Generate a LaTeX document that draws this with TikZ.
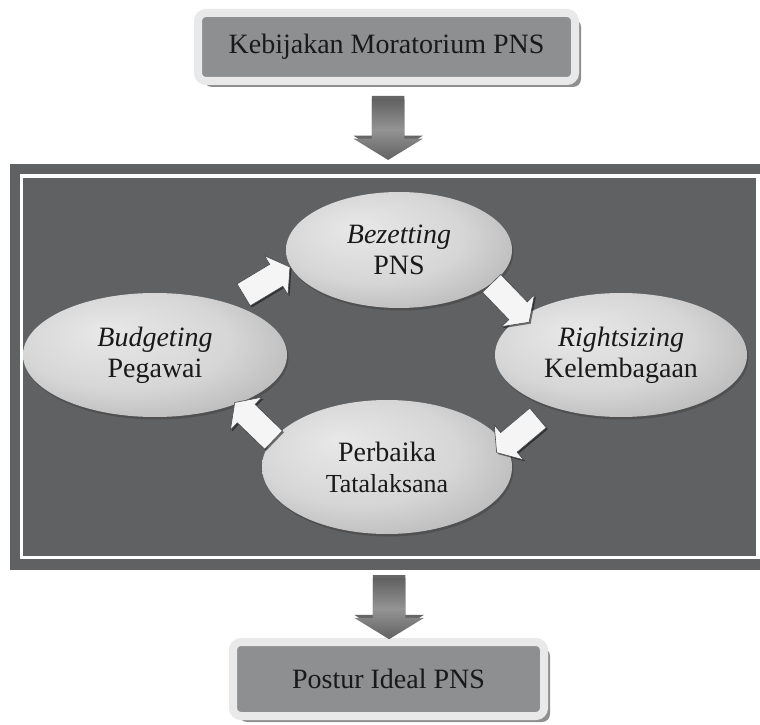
\documentclass[tikz,border=0pt]{standalone}
\usepackage{fontspec}
\setmainfont{Liberation Serif}
\usetikzlibrary{arrows.meta,positioning,calc,shapes.geometric,shapes.arrows,shadows}

\definecolor{panelgray}{HTML}{606163}
\definecolor{boxgray}{HTML}{8E8F91}
\definecolor{rimgray}{HTML}{E9E9EA}
\pgfdeclareradialshading{ovalshade}{\pgfpoint{-10bp}{10bp}}{%
  color(0bp)=(black!9); color(20bp)=(black!16); color(38bp)=(black!32);
  color(50bp)=(black!55)}

\begin{document}
\begin{tikzpicture}[x=1pt, y=1pt,
    font=\fontsize{28}{31}\selectfont,
    titlebox/.style={draw=rimgray, line width=8pt, fill=boxgray, rounded corners=8pt,
      inner sep=0pt, text=black!90,
      drop shadow={shadow xshift=6pt, shadow yshift=-6pt, fill=black!55, opacity=.8}},
    panel/.style={fill=panelgray, draw=white, line width=3.5pt, outer sep=12pt,
      inner sep=0pt, preaction={draw=panelgray, line width=24pt}},
    oval/.style={ellipse, inner sep=0pt, align=center, shading=ovalshade, text=black!90,
      drop shadow={shadow xshift=1.5pt, shadow yshift=-2.5pt, fill=black!70, opacity=.8}},
    flow/.style={single arrow, draw=black!70, line width=.6pt, fill=white!96!black,
      minimum height=54pt, inner xsep=0pt, inner ysep=12.5pt,
      single arrow head extend=10pt, single arrow tip angle=110,
      drop shadow={shadow xshift=1.5pt, shadow yshift=-1.5pt, fill=black, opacity=.5}},
    downarrow/.style={single arrow, rotate=-90, minimum height=61pt,
      inner xsep=0pt, inner ysep=16pt,
      single arrow head extend=18.5pt, single arrow tip angle=117,
      top color=black!62, bottom color=black!62, middle color=black!42,
      drop shadow={shadow xshift=0pt, shadow yshift=3pt, fill=black!75, opacity=.8}}
  ]
    \useasboundingbox (0,0) rectangle (760,724);

    \node[titlebox, minimum width=377pt, minimum height=68pt] (policy) at (386.5,677)
      {Kebijakan Moratorium PNS};
    \node[panel, minimum width=736.5pt, minimum height=381.5pt] (cycle) at (389.75,357.25) {};
    \node[titlebox, minimum width=311pt, minimum height=74pt] (ideal) at (388.5,45)
      {Postur Ideal PNS};
    \node[downarrow] (down1) at ($(policy.south)!0.5!(cycle.north)$) {};
    \node[downarrow] (down2) at ($(cycle.south)!0.5!(ideal.north)$) {};

    % the cycle
    \node[oval, minimum width=226pt, minimum height=116pt] (bezet) at (399,474)
      {\textit{Bezetting}\\PNS};
    \node[oval, minimum width=252pt, minimum height=124pt] (rights) at (621,369)
      {\textit{Rightsizing}\\Kelembagaan};
    \node[oval, minimum width=250pt, minimum height=134pt] (tatal) at (387,257)
      {Perbaika\\{\fontsize{26}{31}\selectfont Tatalaksana}};
    \node[oval, minimum width=264pt, minimum height=124pt] (budget) at (155,369)
      {\textit{Budgeting}\\Pegawai};

    \node[flow, rotate=31] (f1) at ($(budget.30)!0.5!(bezet.185)$) {};
    \node[flow, rotate=-46] (f2) at ($(bezet.341)!0.5!(rights.159)$) {};
    \node[flow, rotate=220] (f3) at ($(rights.205)!0.5!(tatal.0)$) {};
    \node[flow, rotate=136] (f4) at ($(tatal.172)!0.5!(budget.335)$) {};
  \end{tikzpicture}
\end{document}
